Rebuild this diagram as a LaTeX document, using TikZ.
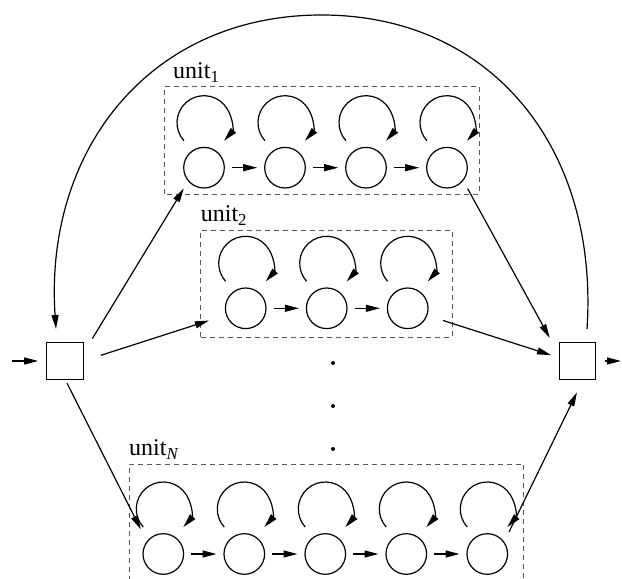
\documentclass[tikz,border=0pt]{standalone}
\usepackage{fontspec}
\setmainfont{Liberation Serif}
\usetikzlibrary{arrows.meta,calc}
\begin{document}
\begin{tikzpicture}[x=1pt,y=1pt,
  unitc/.style={circle,draw,line width=1.2pt,minimum size=40.6pt,inner sep=0pt,outer sep=0pt},
  sq/.style={rectangle,draw,line width=1.2pt,minimum size=36.4pt,inner sep=0pt,outer sep=0pt},
  conn/.style={line width=1.2pt,-{Triangle[length=14pt,width=7pt]}},
  grp/.style={draw=black!65,line width=0.9pt,dash pattern=on 5pt off 4pt},
  lbl/.style={anchor=base west,inner sep=0pt,font=\fontsize{24}{28}\selectfont},
  dotn/.style={circle,fill,inner sep=0pt,minimum size=4pt}
]
\useasboundingbox (0,0) rectangle (622,579);

% groups
\draw[grp] (164,385) rectangle (479,492.3);
\draw[grp] (200,242) rectangle (452,348.3);
\draw[grp] (129,-20) rectangle (523.5,115);
\node[lbl] (l1) at (173,500.7) {unit\textsubscript{1}};
\node[lbl] (l2) at (200.7,357.3) {unit\textsubscript{2}};
\node[lbl] (lN) at (129,123) {unit\textsubscript{\itshape N}};

% states
\foreach \i/\x in {1/204,2/285,3/366,4/447} \node[unitc] (a\i) at (\x,411.3) {};
\foreach \i/\x in {1/245.7,2/326.7,3/407.7} \node[unitc] (b\i) at (\x,270.7) {};
\foreach \i/\x in {1/163.3,2/244.3,3/325.3,4/406.3,5/487.3} \node[unitc] (n\i) at (\x,25) {};

% self loops
\foreach \c in {a1,a2,a3,a4,b1,b2,b3,n1,n2,n3,n4,n5}
  \draw[conn] ($(\c)+(0,45)+(222:27)$) arc[start angle=222,end angle=-42,radius=27];

% chains
\foreach \i/\j in {1/2,2/3,3/4} \draw[conn,shorten <=7.5pt,shorten >=7.5pt] (a\i) -- (a\j);
\foreach \i/\j in {1/2,2/3} \draw[conn,shorten <=7.5pt,shorten >=7.5pt] (b\i) -- (b\j);
\foreach \i/\j in {1/2,2/3,3/4,4/5} \draw[conn,shorten <=7.5pt,shorten >=7.5pt] (n\i) -- (n\j);

% dots
\node[dotn] (d1) at (333,216) {};
\node[dotn] (d2) at (333,173) {};
\node[dotn] (d3) at (333,130) {};

% split / merge
\node[sq] (L) at (65,218) {};
\node[sq] (R) at (577.5,218) {};
\coordinate (in) at (12,218);
\coordinate (out) at (621,218);
\draw[conn,shorten >=8.7pt] (in) -- (L.west);
\draw[conn,shorten <=9pt] (R.east) -- (out);

\draw[conn,shorten <=17.7pt,shorten >=9pt] (L.22) -- (a1.220);
\draw[conn,shorten <=18.6pt,shorten >=18.5pt] (L.0) -- (b1.199);
\draw[conn,shorten <=4.4pt,shorten >=14pt] (L.south) -- (n1.143);
\draw[conn,shorten <=9.6pt,shorten >=20pt] (a4.-38) -- (R.163);
\draw[conn,shorten <=17pt,shorten >=8.7pt] (b3.-20) -- (R.170);
\draw[conn,shorten <=11.7pt,shorten >=14.7pt] (n5.35) -- (R.-72);

% feedback
\draw[conn] ([shift={(9.5,13.8)}]R.north) .. controls (599,429) and (493,564) .. (321.5,564)
  .. controls (150,564) and (44,429) .. ([shift={(-9,13.8)}]L.north);
\end{tikzpicture}
\end{document}
